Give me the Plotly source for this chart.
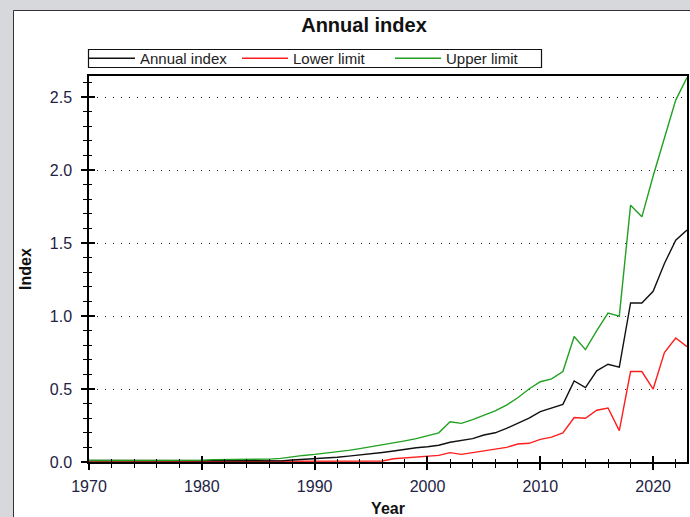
import plotly.graph_objects as go

years = list(range(1970, 2024))

annual_index = [
    0.010, 0.010, 0.010, 0.010, 0.010, 0.010, 0.010, 0.010, 0.010, 0.010,  # 1970-1979
    0.008, 0.008, 0.008, 0.008, 0.008, 0.008, 0.008, 0.008, 0.014, 0.018,  # 1980-1989
    0.022, 0.028, 0.033, 0.040, 0.047, 0.055, 0.065, 0.075, 0.088, 0.098,  # 1990-1999
    0.105, 0.115, 0.135, 0.145, 0.160, 0.185, 0.200, 0.230, 0.265, 0.300,  # 2000-2009
    0.345, 0.370, 0.395, 0.555, 0.510, 0.625, 0.670, 0.650, 1.090, 1.090,  # 2010-2019
    1.170, 1.360, 1.520, 1.590,                                            # 2020-2023
]

lower_limit = [
    0.002, 0.002, 0.002, 0.002, 0.002, 0.002, 0.002, 0.002, 0.002, 0.002,
    0.002, 0.002, 0.002, 0.002, 0.002, 0.002, 0.002, 0.002, 0.002, 0.002,
    0.003, 0.006, 0.006, 0.006, 0.006, 0.006, 0.007, 0.022, 0.028, 0.035,
    0.040, 0.045, 0.064, 0.052, 0.064, 0.075, 0.085, 0.100, 0.123, 0.128,
    0.155, 0.170, 0.200, 0.305, 0.300, 0.355, 0.370, 0.215, 0.620, 0.620,
    0.500, 0.750, 0.850, 0.790,
]

upper_limit = [
    0.010, 0.010, 0.010, 0.010, 0.010, 0.010, 0.010, 0.010, 0.010, 0.010,
    0.012, 0.016, 0.016, 0.016, 0.016, 0.016, 0.020, 0.025, 0.036, 0.045,
    0.052, 0.060, 0.070, 0.080, 0.092, 0.105, 0.115, 0.128, 0.145, 0.160,
    0.180, 0.200, 0.276, 0.265, 0.290, 0.320, 0.350, 0.390, 0.440, 0.500,
    0.550, 0.570, 0.620, 0.860, 0.770, 0.900, 1.020, 1.000, 1.760, 1.680,
    1.960, 2.220, 2.480, 2.635,
]

x_tick_vals = [1970, 1980, 1990, 2000, 2010, 2020]
y_tick_vals = [0.0, 0.5, 1.0, 1.5, 2.0, 2.5]
y_tick_text = ["0.0", "0.5", "1.0", "1.5", "2.0", "2.5"]

FONT = "Liberation Sans, Arial, sans-serif"
W, H = 690, 517
L, R, T, B = 89, 3, 76, 55
PW, PH = W - L - R, H - T - B

fig = go.Figure()
fig.add_trace(go.Scatter(x=years, y=lower_limit, mode="lines", name="Lower limit",
                         line=dict(color="#ff1e1e", width=1.4), legendrank=2))
fig.add_trace(go.Scatter(x=years, y=annual_index, mode="lines", name="Annual index",
                         line=dict(color="#111111", width=1.4), legendrank=1))
fig.add_trace(go.Scatter(x=years, y=upper_limit, mode="lines", name="Upper limit",
                         line=dict(color="#22a022", width=1.4), legendrank=3))
# invisible trace to host the overlay axes carrying inward tick marks
fig.add_trace(go.Scatter(x=[None], y=[None], xaxis="x2", yaxis="y2",
                         showlegend=False, hoverinfo="skip"))

xr = [1970, 2023]
yr = [0, 2.645]


def px_x(p):
    return (p - L) / PW


def px_y(p):
    return (H - B - p) / PH


fig.update_layout(
    width=W, height=H,
    margin=dict(l=L, r=R, t=T, b=B, autoexpand=False),
    paper_bgcolor="#d6d8dc",
    plot_bgcolor="white",
    font=dict(family=FONT, size=16, color="#222222"),
    title=dict(text="<b>Annual index</b>", font=dict(size=20, color="#111111", family=FONT),
               xref="container", x=364 / W, xanchor="center",
               yref="container", y=1 - 25 / H, yanchor="middle"),
    showlegend=True,
    legend=dict(orientation="h", x=px_x(84), y=px_y(58.5), xanchor="left", yanchor="middle",
                bgcolor="rgba(0,0,0,0)", borderwidth=0,
                font=dict(size=15, family=FONT, color="#222222"),
                entrywidth=92, entrywidthmode="pixels",
                traceorder="normal", itemwidth=46, tracegroupgap=0),
    xaxis=dict(range=xr, tickmode="array", tickvals=x_tick_vals,
               ticks="outside", ticklen=6, tickwidth=1.5, tickcolor="black",
               minor=dict(dtick=2, tick0=1970, ticks="outside", ticklen=4,
                          tickwidth=1.2, tickcolor="black", showgrid=False),
               showline=True, linecolor="black", linewidth=1.5, mirror=True,
               showgrid=False, zeroline=False, ticklabelstandoff=3,
               tickfont=dict(size=16, family=FONT, color="#222244"),
               title=dict(text="<b>Year</b>", font=dict(size=16, color="#111111"), standoff=14)),
    yaxis=dict(range=yr, tickmode="array", tickvals=y_tick_vals, ticktext=y_tick_text,
               ticks="outside", ticklen=6, tickwidth=1.5, tickcolor="black",
               minor=dict(dtick=0.1, tick0=0, ticks="outside", ticklen=4,
                          tickwidth=1.2, tickcolor="black", showgrid=False),
               showline=True, linecolor="black", linewidth=1.5, mirror=True,
               showgrid=True, gridcolor="#222222", gridwidth=1, griddash="1px,7px",
               zeroline=False, ticklabelstandoff=6,
               tickfont=dict(size=16, family=FONT, color="#222244"),
               title=dict(text="<b>Index</b>", font=dict(size=16, color="#111111"), standoff=14)),
    xaxis2=dict(range=xr, overlaying="x", anchor="y2", side="bottom",
                tickmode="array", tickvals=x_tick_vals, ticks="inside", ticklen=6,
                tickwidth=1.5, tickcolor="black", showticklabels=False,
                minor=dict(dtick=2, tick0=1970, ticks="inside", ticklen=3,
                           tickwidth=1.2, tickcolor="black"),
                showline=False, showgrid=False, zeroline=False),
    yaxis2=dict(range=yr, overlaying="y", anchor="x2", side="left",
                tickmode="array", tickvals=y_tick_vals, ticks="inside", ticklen=6,
                tickwidth=1.5, tickcolor="black", showticklabels=False,
                minor=dict(dtick=0.1, tick0=0, ticks="inside", ticklen=3,
                           tickwidth=1.2, tickcolor="black"),
                showline=False, showgrid=False, zeroline=False),
    shapes=[
        dict(type="rect", xref="paper", yref="paper", layer="below",
             x0=px_x(13.5), x1=px_x(700), y0=px_y(530), y1=px_y(10.5),
             fillcolor="white", line=dict(color="#333333", width=1)),
        dict(type="rect", xref="paper", yref="paper", layer="above",
             x0=px_x(88.5), x1=px_x(541.5), y0=px_y(67.5), y1=px_y(49.5),
             fillcolor="rgba(0,0,0,0)", line=dict(color="#111111", width=1.2)),
    ],
)

fig.write_html(
    "out.html",
    config={"displayModeBar": False},
    post_script="document.body.style.margin='0px';document.body.style.overflow='hidden';",
)
